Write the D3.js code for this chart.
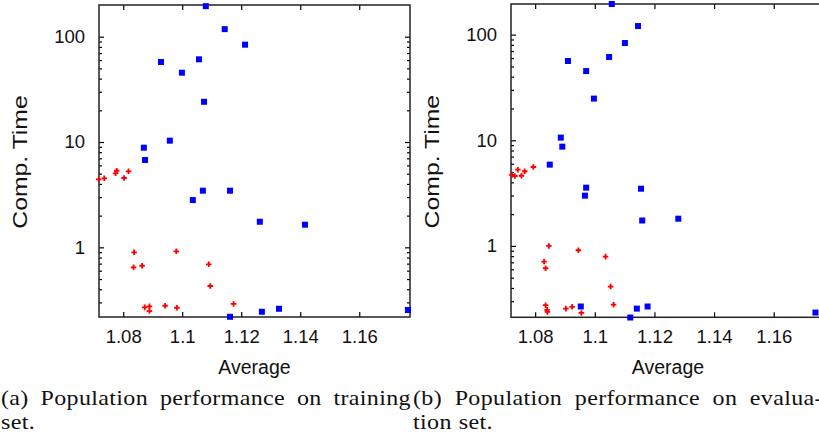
<!DOCTYPE html>
<html>
<head>
<meta charset="utf-8">
<script src="https://cdn.jsdelivr.net/npm/d3@7"></script>
<style>
  body { margin: 0; background: #fff; }
  svg { display: block; }
</style>
</head>
<body>
<div id="chart"></div>
<script>
// tick labels
const xTicks = [1.08, 1.1, 1.12, 1.14, 1.16];
const yTicks = [1, 10, 100];

// (a) training set: [average, comp. time]
const trainBlue = [
  [1.108, 195], [1.1144, 118], [1.0928, 57.5], [1.1057, 61], [1.0999, 45.5],
  [1.1074, 24.1], [1.0958, 10.3], [1.087, 8.83], [1.0874, 6.75], [1.1213, 84],
  [1.1036, 2.81], [1.107, 3.45], [1.1162, 3.45], [1.1263, 1.75], [1.1416, 1.64],
  [1.1162, 0.219], [1.127, 0.2445], [1.1328, 0.261], [1.1765, 0.254]
];
const trainRed = [
  [1.0717, 4.42], [1.0736, 4.52], [1.0774, 5.04], [1.0778, 5.34], [1.0803, 4.55],
  [1.0818, 5.27], [1.0837, 0.897], [1.0835, 0.646], [1.0864, 0.669], [1.098, 0.916],
  [1.109, 0.69], [1.1095, 0.429], [1.0873, 0.269], [1.0889, 0.275], [1.0889, 0.248],
  [1.0942, 0.279], [1.0982, 0.267], [1.1174, 0.29]
];

// (b) evaluation set
const evalBlue = [
  [1.1057, 195], [1.1145, 120.6], [1.1101, 83.3], [1.091, 56.3], [1.1048, 61.4],
  [1.0971, 45.2], [1.0997, 24.8], [1.0886, 10.6], [1.0891, 8.7], [1.0849, 5.88],
  [1.0971, 3.56], [1.0967, 2.99], [1.1155, 3.48], [1.1159, 1.74], [1.128, 1.81],
  [1.0953, 0.267], [1.1119, 0.21], [1.1141, 0.255], [1.1177, 0.267], [1.174, 0.234]
];
const evalRed = [
  [1.0722, 4.70], [1.0732, 4.59], [1.0742, 5.27], [1.0754, 4.62], [1.0765, 5.09],
  [1.0794, 5.59], [1.0846, 1.0], [1.083, 0.711], [1.0835, 0.615], [1.0945, 0.91],
  [1.1036, 0.792], [1.1053, 0.412], [1.1063, 0.278], [1.0835, 0.275], [1.084, 0.248],
  [1.0841, 0.2375], [1.0903, 0.255], [1.0924, 0.265], [1.0955, 0.232]
];

const captionA = ["(a) Population performance on training", "set."];
const captionB = ["(b) Population performance on evalua-", "tion set."];

const W = 819, H = 437;
const sans = "'Liberation Sans', Arial, sans-serif";
const svg = d3.select("#chart").append("svg")
  .attr("width", W)
  .attr("height", H);

function drawPanel(p) {
  const x = d3.scaleLinear().domain(p.xDomain).range([p.left, p.right]);
  const y = d3.scaleLog().domain(p.yDomain).range([p.bottom, p.top]);
  const g = svg.append("g");

  // log minor ticks
  const minor = [];
  for (let e = -1; e <= 2; e++) {
    for (let m = 2; m <= 9; m++) {
      const v = m * Math.pow(10, e);
      if (v > p.yDomain[0] && v < p.yDomain[1]) minor.push(v);
    }
  }

  const tickStyle = sel => {
    sel.select(".domain").remove();
    sel.selectAll("line").attr("stroke", "#000").attr("stroke-width", 1.2);
    sel.selectAll("text")
      .attr("font-family", sans)
      .attr("font-size", "18.5px")
      .attr("fill", "#111");
  };

  g.append("g")
    .attr("transform", `translate(0,${p.bottom})`)
    .call(d3.axisBottom(x).tickValues(xTicks).tickFormat(d3.format("")).tickSizeInner(-5).tickSizeOuter(0).tickPadding(13))
    .call(tickStyle);
  g.append("g")
    .attr("transform", `translate(0,${p.top})`)
    .call(d3.axisTop(x).tickValues(xTicks).tickFormat("").tickSizeInner(-5).tickSizeOuter(0))
    .call(tickStyle);
  g.append("g")
    .attr("transform", `translate(${p.left},0)`)
    .call(d3.axisLeft(y).tickValues(yTicks).tickFormat(d3.format("")).tickSizeInner(-5).tickSizeOuter(0).tickPadding(14))
    .call(tickStyle);
  g.append("g")
    .attr("transform", `translate(${p.left},0)`)
    .call(d3.axisLeft(y).tickValues(minor).tickFormat("").tickSizeInner(-3).tickSizeOuter(0))
    .call(tickStyle);
  g.append("g")
    .attr("transform", `translate(${p.right},0)`)
    .call(d3.axisRight(y).tickValues(yTicks).tickFormat("").tickSizeInner(-5).tickSizeOuter(0))
    .call(tickStyle);
  g.append("g")
    .attr("transform", `translate(${p.right},0)`)
    .call(d3.axisRight(y).tickValues(minor).tickFormat("").tickSizeInner(-3).tickSizeOuter(0))
    .call(tickStyle);

  // frame
  g.append("rect")
    .attr("x", p.left)
    .attr("y", p.top)
    .attr("width", p.right - p.left)
    .attr("height", p.bottom - p.top)
    .attr("fill", "none")
    .attr("stroke", "#222")
    .attr("stroke-width", 1.5);

  // blue squares
  g.selectAll(".sq")
    .data(p.blue)
    .enter()
    .append("rect")
    .attr("x", d => x(d[0]) - 3)
    .attr("y", d => y(d[1]) - 3)
    .attr("width", 6)
    .attr("height", 6)
    .attr("fill", "#0000ff");

  // red crosses
  g.selectAll(".cr")
    .data(p.red)
    .enter()
    .append("path")
    .attr("d", d3.symbol().type(d3.symbolCross).size(17))
    .attr("transform", d => `translate(${x(d[0])},${y(d[1])})`)
    .attr("fill", "#ff0000");

  // labels
  g.append("text")
    .attr("x", (p.left + p.right) / 2)
    .attr("y", 374)
    .attr("text-anchor", "middle")
    .attr("font-family", sans)
    .attr("font-size", "19.5px")
    .attr("fill", "#111")
    .text("Average");

  g.append("text")
    .attr("transform", `translate(${p.left - 72},${(p.top + p.bottom) / 2 + 1}) rotate(-90) scale(1.18,1)`)
    .attr("text-anchor", "middle")
    .attr("font-family", sans)
    .attr("font-size", "21px")
    .attr("fill", "#111")
    .text("Comp. Time");
}

drawPanel({
  left: 99, right: 410, top: 5, bottom: 317,
  xDomain: [1.0718, 1.1772], yDomain: [0.218, 200],
  blue: trainBlue, red: trainRed
});
drawPanel({
  left: 511, right: 825, top: 4, bottom: 317.3,
  xDomain: [1.0719, 1.1772], yDomain: [0.211, 195],
  blue: evalBlue, red: evalRed
});

// justified caption lines (serif, widened a little like Computer Modern)
const sx = 1.2;
function captionLine(str, x0, x1, yb, justify) {
  const words = str.split(" ");
  const t = svg.append("g");
  const nodes = words.map(w => t.append("text")
    .attr("font-family", "'Liberation Serif', 'Times New Roman', serif")
    .attr("font-size", "20px")
    .attr("letter-spacing", "0.3px")
    .attr("fill", "#111")
    .text(w));
  const widths = nodes.map(n => n.node().getComputedTextLength() * sx);
  const gap = justify ? (x1 - x0 - d3.sum(widths)) / (words.length - 1) : 7;
  let cx = x0;
  nodes.forEach((n, i) => {
    n.attr("transform", `translate(${cx},${yb}) scale(${sx},1)`);
    cx += widths[i] + gap;
  });
}

captionLine(captionA[0], 1, 411, 405, true);
captionLine(captionA[1], 1, 411, 429, false);
captionLine(captionB[0], 413, 823, 405, true);
captionLine(captionB[1], 413, 823, 429, false);
</script>
</body>
</html>
